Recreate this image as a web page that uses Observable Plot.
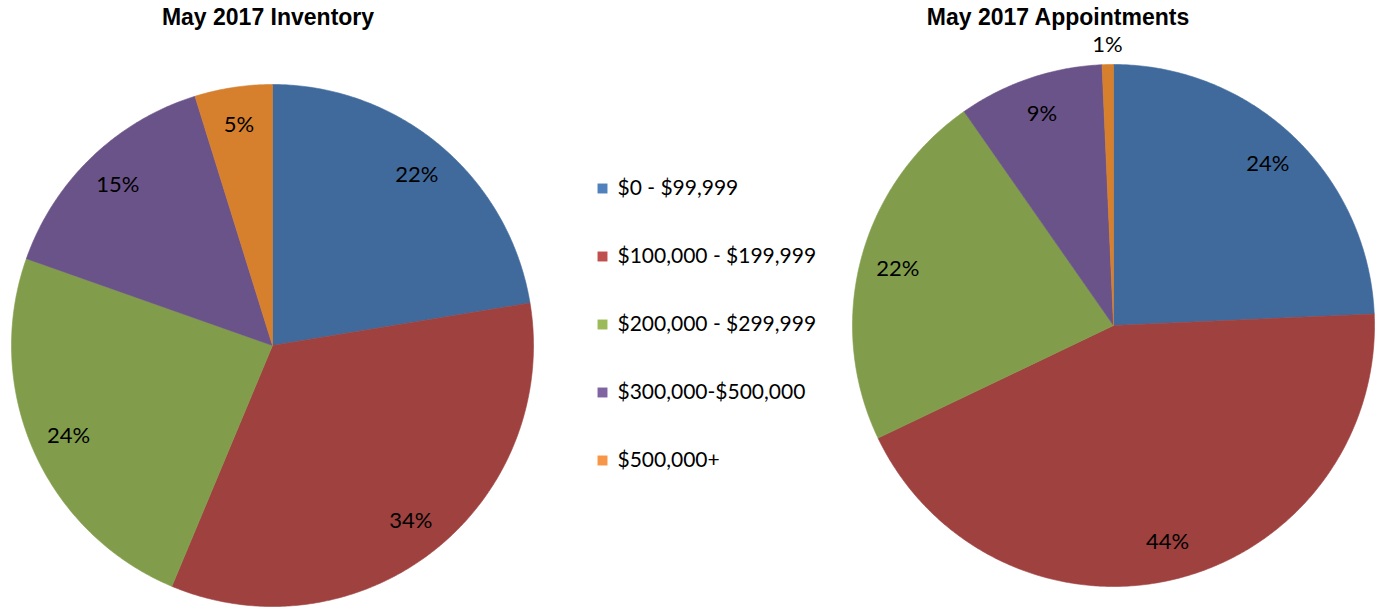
<!DOCTYPE html>
<html>
<head>
<meta charset="utf-8">
<script src="https://cdn.jsdelivr.net/npm/d3@7"></script>
<script src="https://cdn.jsdelivr.net/npm/@observablehq/plot@0.6"></script>
<style>
  html, body { margin: 0; padding: 0; background: #fff; }
  #chart { position: relative; width: 1380px; height: 607px; overflow: hidden; }
  .panel { position: absolute; top: 0; }
</style>
</head>
<body>
<div id="chart">
  <div class="panel" id="left" style="left:0px"></div>
  <div class="panel" id="legend" style="left:590px"></div>
  <div class="panel" id="right" style="left:835px"></div>
</div>
<script>
const categories = ["$0 - $99,999", "$100,000 - $199,999", "$200,000 - $299,999", "$300,000-$500,000", "$500,000+"];
const inventoryShares = [22.4, 33.9, 24.1, 14.8, 4.8];
const appointmentShares = [24.3, 43.6, 22.4, 9.0, 0.7];
const titles = ["May 2017 Inventory", "May 2017 Appointments"];
const pieColors = ["#416A9C", "#9E413F", "#819D4B", "#6A5388", "#D6802D"];
const legendColors = ["#4F81BD", "#C0504D", "#9BBB59", "#8064A2", "#F79646"];

function pieGeometry(values) {
  const arcs = d3.pie().sort(null)(values);
  const outline = [];
  const labels = [];
  arcs.forEach((a, i) => {
    const cat = categories[i];
    const n = Math.max(2, Math.ceil((a.endAngle - a.startAngle) / (Math.PI / 360)));
    outline.push({cat, x: 0, y: 0});
    for (let k = 0; k <= n; k++) {
      const t = a.startAngle + (a.endAngle - a.startAngle) * k / n;
      outline.push({cat, x: Math.sin(t), y: Math.cos(t)});
    }
    outline.push({cat, x: 0, y: 0});
    const mid = (a.startAngle + a.endAngle) / 2;
    const f = a.data < 2 ? 1.075 : 0.855;
    labels.push({cat, x: f * Math.sin(mid), y: f * Math.cos(mid), text: Math.round(a.data) + "%"});
  });
  return {outline, labels};
}

function pie(values, title, xRange, yRange, titleDx) {
  const g = pieGeometry(values);
  return Plot.plot({
    width: 545, height: 607, margin: 0,
    x: {domain: [-1, 1], range: xRange, axis: null},
    y: {domain: [-1, 1], range: yRange, axis: null},
    color: {domain: categories, range: pieColors},
    style: {fontFamily: "Lato, sans-serif", overflow: "visible", background: "transparent"},
    marks: [
      Plot.line(g.outline, {x: "x", y: "y", z: "cat", fill: "cat", stroke: "cat", strokeWidth: 0.6, curve: "linear"}),
      Plot.text(g.labels, {x: "x", y: "y", text: "text", fill: "black", fontSize: 22}),
      Plot.text([title], {text: d => d, frameAnchor: "top", dy: 17, dx: titleDx, lineAnchor: "middle",
        fontFamily: "Liberation Sans, Arial, sans-serif", fontWeight: "bold", fontSize: 23, fill: "black"})
    ]
  });
}

document.getElementById("left").appendChild(pie(inventoryShares, titles[0], [11, 533], [606, 84], -5));
document.getElementById("right").appendChild(pie(appointmentShares, titles[1], [17, 539], [586, 64], -50));

const legend = Plot.plot({
  width: 250, height: 607, margin: 0,
  y: {type: "point", domain: categories, range: [188, 460], padding: 0, axis: null},
  color: {domain: categories, range: legendColors},
  style: {fontFamily: "Lato, sans-serif", overflow: "visible", background: "transparent"},
  marks: [
    Plot.dot(categories, {y: d => d, fill: d => d, symbol: "square", r: 5.6, frameAnchor: "left", dx: 12}),
    Plot.text(categories, {y: d => d, text: d => d, frameAnchor: "left", dx: 27, textAnchor: "start", fontSize: 21, fill: "black"})
  ]
});
document.getElementById("legend").appendChild(legend);
</script>
</body>
</html>
